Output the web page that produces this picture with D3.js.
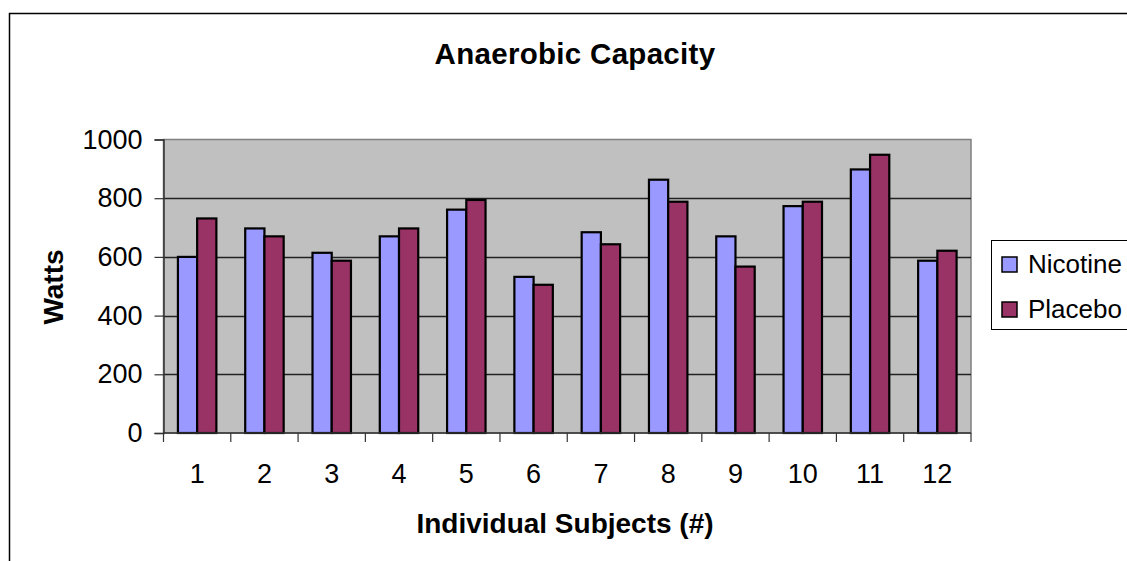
<!DOCTYPE html>
<html>
<head>
<meta charset="utf-8">
<script src="https://cdn.jsdelivr.net/npm/d3@7"></script>
<style>
  body { margin: 0; background: #fff; }
  svg { display: block; font-family: "Liberation Sans", Arial, sans-serif; }
</style>
</head>
<body>
<svg id="chart" width="1127" height="561"></svg>
<script>
// Data
const subjects = ['1', '2', '3', '4', '5', '6', '7', '8', '9', '10', '11', '12'];
const seriesNames = ['Nicotine', 'Placebo'];
const nicotine = [600, 697, 614, 670, 761, 532, 684, 863, 670, 773, 898, 587];
const placebo = [731, 670, 587, 697, 794, 505, 643, 788, 567, 788, 948, 621];
const yTicks = [0, 200, 400, 600, 800, 1000];
const colours = ['#9999ff', '#993366'];

const svg = d3.select('#chart');
const plot = {left: 163.5, right: 971, top: 139.5, bottom: 433};

// outer chart border (clipped on right and bottom by the window)
svg.append('rect')
    .attr('x', 9.5).attr('y', 13.5)
    .attr('width', 1200).attr('height', 700)
    .attr('fill', 'none').attr('stroke', '#000').attr('stroke-width', 1.5);

const x = d3.scaleBand().domain(subjects).range([plot.left, plot.right]).padding(0);
const xInner = d3.scaleBand().domain(seriesNames).range([0, x.bandwidth()])
    .paddingInner(0).paddingOuter(0.75);
const y = d3.scaleLinear().domain([0, 1000]).range([plot.bottom, plot.top]);

// plot background
svg.append('rect')
    .attr('x', plot.left).attr('y', plot.top)
    .attr('width', plot.right - plot.left).attr('height', plot.bottom - plot.top)
    .attr('fill', '#c0c0c0').attr('stroke', '#808080').attr('stroke-width', 1.5);

// gridlines
svg.append('g').selectAll('line').data(yTicks.filter(d => d > 0 && d < 1000)).join('line')
    .attr('x1', plot.left).attr('x2', plot.right)
    .attr('y1', d => Math.round(y(d)) + 0.5).attr('y2', d => Math.round(y(d)) + 0.5)
    .attr('stroke', '#222').attr('stroke-width', 1.3);

// bars
const rows = subjects.map((s, i) => [{s, k: 'Nicotine', v: nicotine[i]}, {s, k: 'Placebo', v: placebo[i]}]);
svg.append('g').selectAll('g').data(rows).join('g')
    .selectAll('rect').data(d => d).join('rect')
        .attr('x', d => x(d.s) + xInner(d.k))
        .attr('width', xInner.bandwidth())
        .attr('y', d => y(d.v))
        .attr('height', d => y(0) - y(d.v))
        .attr('fill', (d, i) => colours[i])
        .attr('stroke', '#000').attr('stroke-width', 2.2);

// y axis
const yAxis = svg.append('g')
    .attr('transform', `translate(${plot.left},0)`)
    .call(d3.axisLeft(y).tickValues(yTicks).tickSize(9).tickPadding(12).tickFormat(d3.format('d')));
yAxis.select('.domain').attr('stroke', '#333').attr('stroke-width', 1.5);
yAxis.selectAll('.tick line').attr('stroke', '#333').attr('stroke-width', 1.2);
yAxis.selectAll('text').attr('font-size', 27).attr('fill', '#000')
    .attr('font-family', '"Liberation Sans", Arial, sans-serif');

// x axis: ticks on category boundaries
const xAxisG = svg.append('g');
xAxisG.append('line')
    .attr('x1', plot.left).attr('x2', plot.right)
    .attr('y1', plot.bottom).attr('y2', plot.bottom)
    .attr('stroke', '#333').attr('stroke-width', 1.5);
const bounds = subjects.map(s => x(s)).concat([x.range()[1]]);
xAxisG.selectAll('line.tk').data(bounds).join('line')
    .attr('class', 'tk')
    .attr('x1', d => d).attr('x2', d => d)
    .attr('y1', plot.bottom).attr('y2', plot.bottom + 9)
    .attr('stroke', '#333').attr('stroke-width', 1.2);
xAxisG.selectAll('text').data(subjects).join('text')
    .attr('x', d => x(d) + x.bandwidth() / 2)
    .attr('y', 483)
    .attr('text-anchor', 'middle')
    .attr('font-size', 27)
    .text(d => d);

// title and axis titles
svg.append('text')
    .attr('x', 575).attr('y', 64)
    .attr('text-anchor', 'middle')
    .attr('font-size', 29.5).attr('font-weight', 'bold')
    .style('letter-spacing', '0.3px')
    .text('Anaerobic Capacity');

svg.append('text')
    .attr('x', 565).attr('y', 533)
    .attr('text-anchor', 'middle')
    .attr('font-size', 28).attr('font-weight', 'bold')
    .text('Individual Subjects (#)');

svg.append('text')
    .attr('transform', 'translate(63,287) rotate(-90)')
    .attr('text-anchor', 'middle')
    .attr('font-size', 28).attr('font-weight', 'bold')
    .text('Watts');

// legend
const legend = svg.append('g');
legend.append('rect')
    .attr('x', 991.5).attr('y', 240.5)
    .attr('width', 200).attr('height', 89)
    .attr('fill', '#fff').attr('stroke', '#000').attr('stroke-width', 1);
const legendY = d3.scalePoint().domain(seriesNames).range([273, 318]);
const items = legend.selectAll('g').data(seriesNames).join('g')
    .attr('transform', d => `translate(0,${legendY(d)})`);
items.append('rect')
    .attr('x', 1002).attr('y', -16)
    .attr('width', 15).attr('height', 15)
    .attr('fill', (d, i) => colours[i])
    .attr('stroke', '#000').attr('stroke-width', 1.5);
items.append('text')
    .attr('x', 1028).attr('y', 0)
    .attr('font-size', 26)
    .text(d => d);
</script>
</body>
</html>
